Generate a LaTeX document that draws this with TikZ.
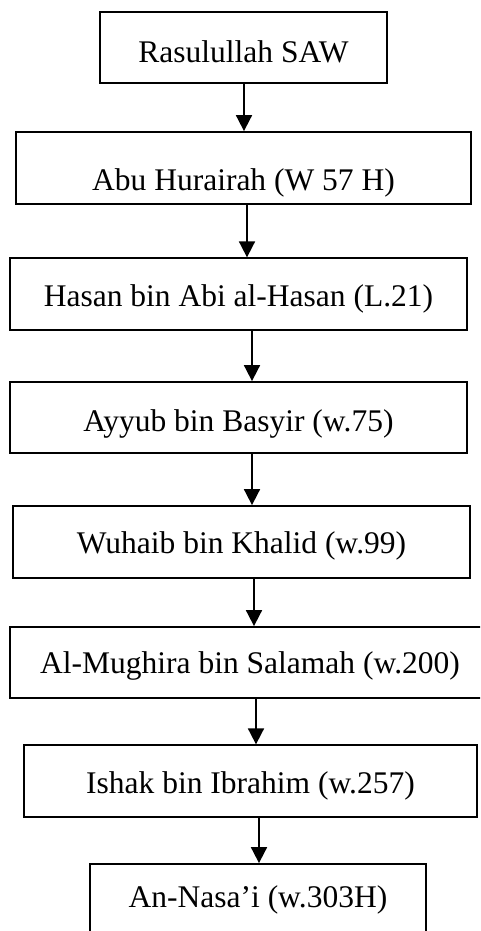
\documentclass[tikz,border=0pt]{standalone}
\usepackage{fontspec}
\setmainfont{Liberation Serif}
\usetikzlibrary{arrows.meta}

\begin{document}
\begin{tikzpicture}[x=1pt,y=-1pt]
  \tikzstyle{perawi}=[draw, line width=1.8pt, inner sep=0pt, text height=48pt, text depth=23.5pt, font=\fontsize{31.5}{38}\selectfont]
  \tikzstyle{sanad}=[line width=1.8pt, -{Triangle[width=16pt,length=16pt]}]
  \clip (0,0) rectangle (480,931);
  % rantai sanad
  \node[perawi, minimum width=287pt, text height=51pt, text depth=20pt] (rasul) at (243.5,47.5) {Rasulullah SAW};
  \node[perawi, minimum width=455pt, text height=58pt, text depth=14pt] (abu) at (243.5,168) {Abu Hurairah (W 57 H)};
  \node[perawi, minimum width=457pt] (hasan) at (238.5,294) {Hasan bin Abi al-Hasan (L.21)};
  \node[perawi, minimum width=457pt, text height=49pt, text depth=22pt] (ayyub) at (238.5,417.5) {Ayyub bin Basyir (w.75)};
  \node[perawi, minimum width=457pt, text height=47pt, text depth=25pt] (wuhaib) at (241.5,542) {Wuhaib bin Khalid (w.99)};
  \node[perawi, minimum width=480pt, text height=46pt, text depth=25pt] (mughira) at (250,662.5) {Al-Mughira bin Salamah (w.200)};
  \node[perawi, minimum width=453pt] (ishak) at (250.5,781) {Ishak bin Ibrahim (w.257)};
  \node[perawi, minimum width=336pt, text height=43pt, text depth=29pt] (nasai) at (258,900) {An-Nasa’i (w.303H)};
  % panah
  \draw[sanad] (rasul.south -| 244,0) -- (abu.north -| 244,0);
  \draw[sanad] (abu.south -| 247,0) -- (hasan.north -| 247,0);
  \draw[sanad] (hasan.south -| 252,0) -- (ayyub.north -| 252,0);
  \draw[sanad] (ayyub.south -| 252,0) -- (wuhaib.north -| 252,0);
  \draw[sanad] (wuhaib.south -| 254,0) -- (mughira.north -| 254,0);
  \draw[sanad] (mughira.south -| 256,0) -- (ishak.north -| 256,0);
  \draw[sanad] (ishak.south -| 259,0) -- (nasai.north -| 259,0);
\end{tikzpicture}
\end{document}
